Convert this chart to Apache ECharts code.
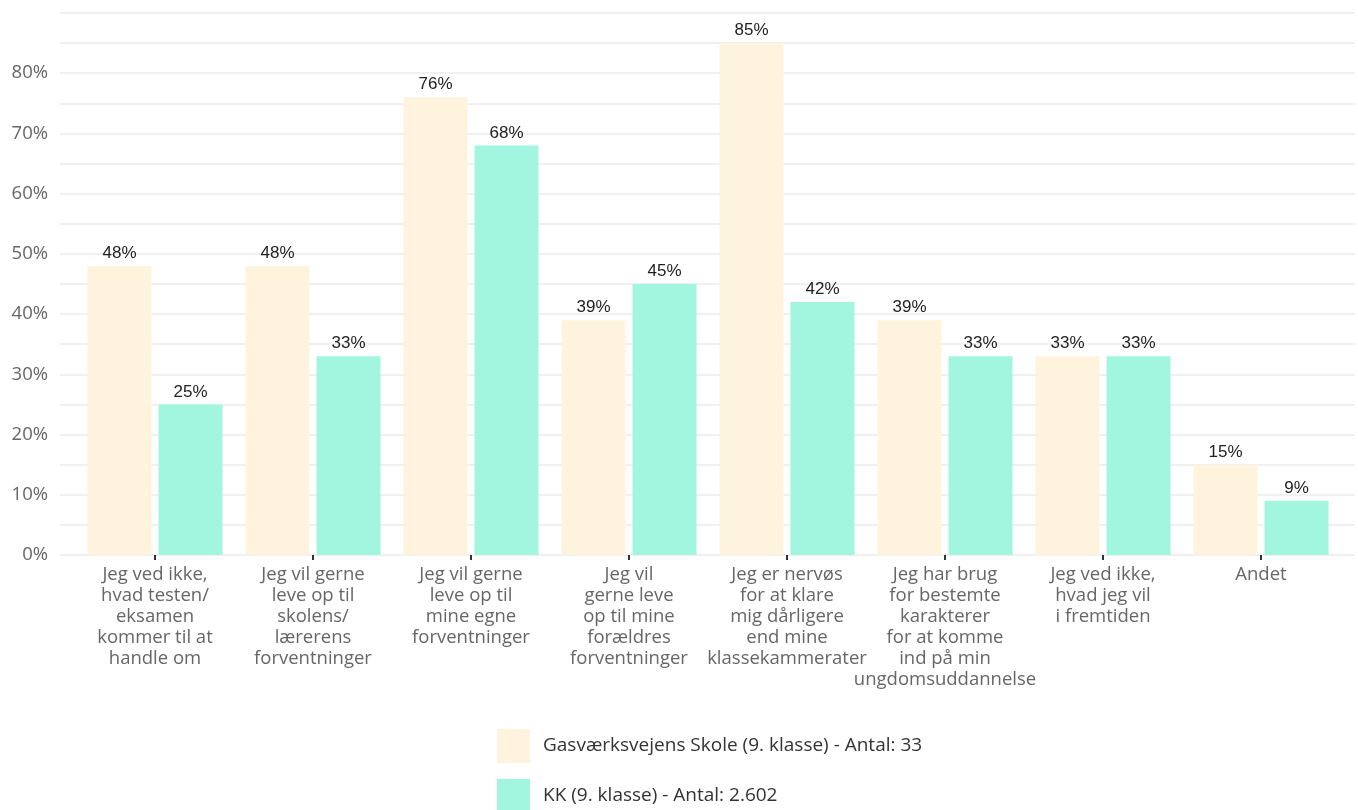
<!DOCTYPE html>
<html>
<head>
<meta charset="utf-8">
<script src="https://cdn.jsdelivr.net/npm/echarts@6/dist/echarts.min.js"></script>
<style>
html,body{margin:0;padding:0;background:#fff;}
#chart{width:1358px;height:810px;}
</style>
</head>
<body>
<div id="chart"></div>
<script>
const categories = [
  "Jeg ved ikke,\nhvad testen/\neksamen\nkommer til at\nhandle om",
  "Jeg vil gerne\nleve op til\nskolens/\nlærerens\nforventninger",
  "Jeg vil gerne\nleve op til\nmine egne\nforventninger",
  "Jeg vil\ngerne leve\nop til mine\nforældres\nforventninger",
  "Jeg er nervøs\nfor at klare\nmig dårligere\nend mine\nklassekammerater",
  "Jeg har brug\nfor bestemte\nkarakterer\nfor at komme\nind på min\nungdomsuddannelse",
  "Jeg ved ikke,\nhvad jeg vil\ni fremtiden",
  "Andet"
];
const seriesNames = ["Gasværksvejens Skole (9. klasse) - Antal: 33", "KK (9. klasse) - Antal: 2.602"];
const schoolValues = [48, 48, 76, 39, 85, 39, 33, 15];
const kkValues = [25, 33, 68, 45, 42, 33, 33, 9];
const colors = ["#FEF4DD", "#A2F5DF"];

const axisFont = "'Open Sans', 'Noto Sans', sans-serif";
const legendBase = {
  orient: 'vertical', left: 492, itemWidth: 33, itemHeight: 34, icon: 'rect',
  textStyle: {fontFamily: axisFont, fontSize: 19, color: '#333', padding: [0,0,0,8]}
};
const chart = echarts.init(document.getElementById('chart'));
chart.setOption({
  animation: false,
  backgroundColor: '#ffffff',
  grid: [
    {left: 76, width: 1264, top: 13, height: 542},
    {left: 60, right: 3, top: 13, height: 542}
  ],
  legend: [
    Object.assign({}, legendBase, {data: [seriesNames[0]], top: 724}),
    Object.assign({}, legendBase, {data: [seriesNames[1]], top: 774})
  ],
  xAxis: [
    {
      type: 'category', gridIndex: 0, data: categories,
      axisLine: {show: false},
      axisTick: {show: true, alignWithLabel: true, length: 5, lineStyle: {color: '#333', width: 2}},
      axisLabel: {fontFamily: axisFont, fontSize: 18.5, color: '#666', lineHeight: 21, margin: 9, interval: 0}
    },
    {type: 'value', gridIndex: 1, show: false, min: 0, max: 1}
  ],
  yAxis: [
    {type: 'value', gridIndex: 0, min: 0, max: 90, interval: 5, show: false},
    {
      type: 'value', gridIndex: 1, min: 0, max: 90, interval: 5,
      axisLine: {show: false}, axisTick: {show: false},
      splitLine: {show: true, lineStyle: {color: '#ebebeb', width: 1.5}},
      axisLabel: {
        fontFamily: axisFont, fontSize: 18.5, color: '#666', margin: 12,
        formatter: function (v) { return (v % 10 === 0 && v < 90) ? v + '%' : ''; }
      }
    }
  ],
  series: [
    {
      name: seriesNames[0], type: 'bar', xAxisIndex: 0, yAxisIndex: 0,
      data: schoolValues, barWidth: 64, barGap: '11%',
      itemStyle: {color: colors[0]},
      label: {show: true, position: 'top', distance: 4, formatter: '{c}%', fontFamily: "'Liberation Sans', Arial, sans-serif", fontSize: 17, color: '#222'}
    },
    {
      name: seriesNames[1], type: 'bar', xAxisIndex: 0, yAxisIndex: 0,
      data: kkValues, barWidth: 64, barGap: '11%',
      itemStyle: {color: colors[1]},
      label: {show: true, position: 'top', distance: 4, formatter: '{c}%', fontFamily: "'Liberation Sans', Arial, sans-serif", fontSize: 17, color: '#222'}
    }
  ]
});
</script>
</body>
</html>
